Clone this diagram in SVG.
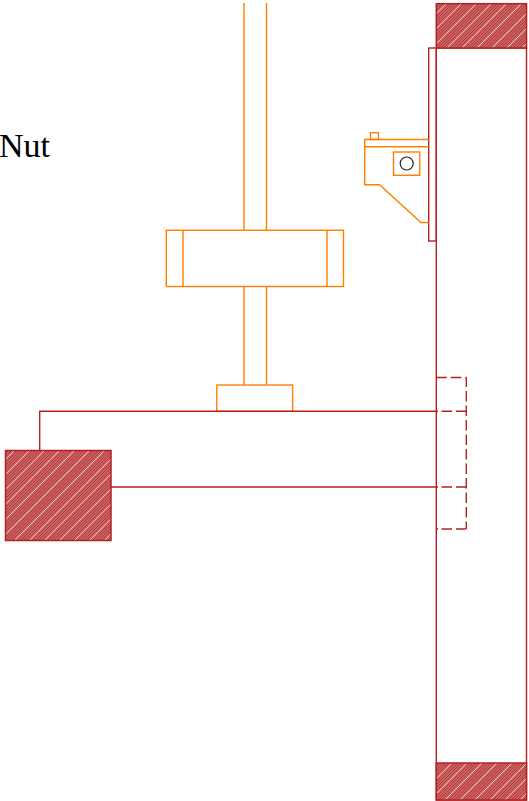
<svg xmlns="http://www.w3.org/2000/svg" width="529" height="801" viewBox="0 0 529 801">
<style>
.o{fill:none;stroke:#ff8000;stroke-width:1.4}
.r{fill:none;stroke:#b22222;stroke-width:1.4}
.d{fill:none;stroke:#b22222;stroke-width:1.4;stroke-dasharray:10.5 4}
.h{fill:url(#hatch);stroke:#b22222;stroke-width:1.5}
</style>
<defs>
<pattern id="hatch" width="15" height="15" patternUnits="userSpaceOnUse">
<rect width="15" height="15" fill="#c96464"/>
<path d="M-1 4L4 -1M-1 7L7 -1M-1 10L10 -1M-1 13L13 -1M2 16L16 2M5 16L16 5M8 16L16 8M11 16L16 11" stroke="#b22222" stroke-width="0.7" fill="none"/>
<path d="M-1 1L1 -1M-1 16L16 -1M14 16L16 14" stroke="#f6dede" stroke-width="0.7" fill="none"/>
</pattern>
</defs>
<rect width="529" height="801" fill="#fff"/>
<g id="wall">
<rect class="r" x="436.3" y="48" width="90.2" height="752"/>
<rect class="h" x="436.3" y="3.7" width="90.2" height="44.3"/>
<rect class="h" x="436.3" y="763" width="90.2" height="37"/>
<rect class="r" x="428.7" y="48" width="7.6" height="193"/>
</g>
<g id="bracket">
<path class="o" d="M428.7 139.5H364.7V184.7H379.5L421 222.5H428.7M364.7 146.7H428.7"/>
<rect class="o" x="370.5" y="132.7" width="8" height="6.8"/>
<rect class="o" x="393.5" y="152" width="26.3" height="23.3"/>
<circle cx="406.7" cy="163.5" r="6.5" fill="none" stroke="#222" stroke-width="1.2"/>
</g>
<g id="screw">
<path class="o" d="M244 3V230M266.5 3V230M244 286.5V385M266.5 286.5V385"/>
<rect class="o" x="166.3" y="230.3" width="177.2" height="56.2"/>
<path class="o" d="M183 230.3V286.5M327 230.3V286.5"/>
<rect class="o" x="216.8" y="385" width="75.8" height="26.3"/>
</g>
<g id="arm">
<path class="r" d="M39.7 450.5V411.3H438M111 487H438M436.3 529H438"/>
<rect class="h" x="5.5" y="450.5" width="105.5" height="90"/>
</g>
<g id="connectors">
<path class="d" d="M436.3 377.5H466.3V529"/>
<path class="d" d="M441.5 411.3H466.3M441.5 487H466.3M441.5 529H466.3"/>
</g>
<text id="label" x="-1" y="157" font-family="'Liberation Serif',serif" font-size="34" fill="#000">Nut</text>
</svg>
